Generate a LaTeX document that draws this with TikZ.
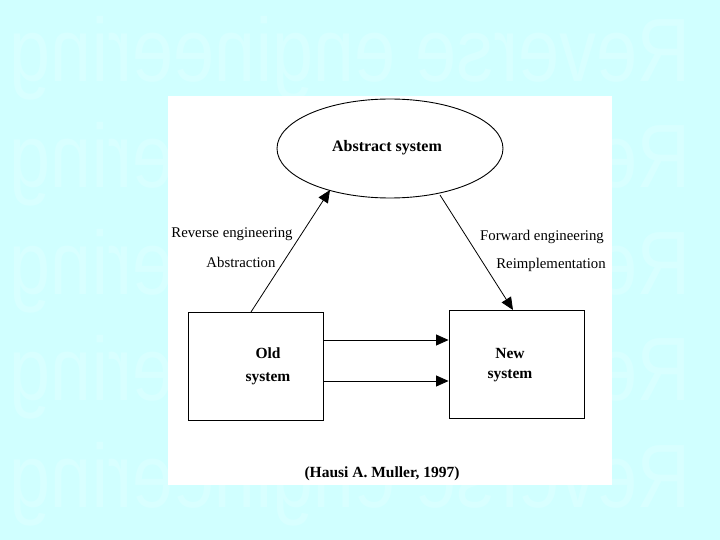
\documentclass[tikz,border=0pt]{standalone}
\usepackage{fontspec}
\setmainfont{Liberation Serif}
\newfontfamily\wmfont{Liberation Sans}
\usetikzlibrary{arrows.meta,shapes.geometric}
\definecolor{bgcyan}{RGB}{208,255,255}
\definecolor{wmcol}{RGB}{216,255,255}
\tikzset{
  lbl/.style={font=\fontsize{14.8}{17}\selectfont, inner sep=0pt},
  blbl/.style={font=\fontsize{15.5}{18}\selectfont\bfseries, inner sep=0pt, align=center},
  boxnode/.style={draw, line width=0.9pt, inner sep=0pt},
  conn/.style={line width=0.8pt, -{Triangle[length=12.5pt,width=11pt]}},
  wm/.style={font=\wmfont\fontsize{90}{90}\selectfont, text=wmcol, xscale=-0.82, inner sep=0pt, anchor=base}
}
\begin{document}
\begin{tikzpicture}[x=1pt,y=-1pt]
\useasboundingbox (0,0) rectangle (720,540);
\fill[bgcyan] (0,0) rectangle (720,540);
% watermark rows
\foreach \yy in {82,188,294,400,507}
  \node[wm] (wm\yy) at (350,\yy) {Reverse engineering};
% white panel
\fill[white] (168,96) rectangle (612,485);
% nodes
\node[boxnode, ellipse, minimum width=226pt, minimum height=99pt] (abs) at (390,148.5) {};
\node[blbl, font=\fontsize{16}{18}\selectfont\bfseries] (abst) at (387,148) {Abstract system};
\node[boxnode, minimum width=135pt, minimum height=108pt] (old) at (255.5,366) {};
\node[blbl] (oldt) at (268,366) {Old\\[5pt]system};
\node[boxnode, minimum width=135pt, minimum height=108pt] (new) at (516.5,364) {};
\node[blbl] (newt) at (510,365) {New\\[2pt]system};
% connectors
\coordinate (a1) at (251,312);
\coordinate (a2) at (330,190);
\coordinate (b1) at (440,195);
\coordinate (b2) at (513,310);
\draw[conn] (a1) -- (a2);
\draw[conn] (b1) -- (b2);
\draw[conn] (old.east |- 0,340) -- (new.west |- 0,340);
\draw[conn] (old.east |- 0,381) -- (new.west |- 0,381);
% labels
\node[lbl] (l1) at (232,234) {Reverse engineering};
\node[lbl] (l2) at (241,262) {Abstraction};
\node[lbl] (l3) at (542,237) {Forward engineering};
\node[lbl] (l4) at (551,265) {Reimplementation};
\node[blbl] (cred) at (382,474) {(Hausi A. Muller, 1997)};
\end{tikzpicture}
\end{document}
